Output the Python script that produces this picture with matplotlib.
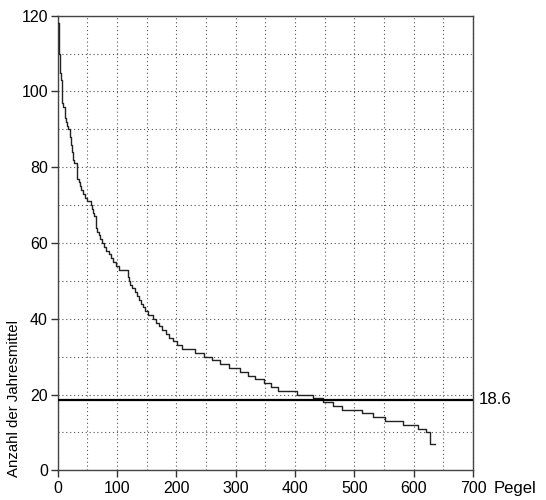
import matplotlib
matplotlib.use("Agg")
import matplotlib.pyplot as plt
from matplotlib.ticker import MultipleLocator

plt.rcParams['font.family'] = ['Liberation Sans', 'DejaVu Sans']

# rank at which each count level starts (steps-post), and the count level
ranks = [1, 2, 3, 4, 5, 7, 8, 9, 12, 14, 16, 17, 20, 22, 24, 26, 28, 32, 33, 36,
         38, 40, 43, 46, 49, 56, 58, 60, 62, 64, 65, 67, 69, 72, 75, 78, 82, 86, 90, 94,
         98, 104, 118, 120, 122, 125, 130, 134, 137, 140, 143, 147, 152, 161, 165, 170,
         176, 182, 188, 194, 201, 210, 232, 246, 260, 273, 289, 307, 320, 333, 348, 359,
         372, 404, 430, 448, 464, 479, 513, 532, 551, 582, 607, 621, 627, 636]
counts = [118, 115, 110, 105, 103, 100, 97, 96, 93, 92, 91, 90, 88, 86, 84, 82, 81, 79, 77, 76,
          75, 74, 73, 72, 71, 70, 69, 68, 67, 66, 64, 63, 62, 61, 60, 59, 58, 57, 56, 55,
          54, 53, 51, 50, 49, 48, 47, 46, 45, 44, 43, 42, 41, 40, 39, 38,
          37, 36, 35, 34, 33, 32, 31, 30, 29, 28, 27, 26, 25, 24, 23, 22,
          21, 20, 19, 18, 17, 16, 15, 14, 13, 12, 11, 10, 7, 7]
threshold = 18.6
xticks = [0, 100, 200, 300, 400, 500, 600, 700]
yticks = [0, 20, 40, 60, 80, 100, 120]

fig = plt.figure(figsize=(5.46, 5.0), dpi=100)
ax = fig.add_axes([0.1057, 0.0594, 0.7606, 0.9092])

ax.plot(ranks, counts, drawstyle='steps-post', color='#222222', lw=1.0, zorder=3)
ax.axhline(threshold, color='black', lw=1.6, zorder=4)

ax.set_xlim(0, 700)
ax.set_ylim(0, 120)
ax.set_xticks(xticks)
ax.set_yticks(yticks)
ax.xaxis.set_minor_locator(MultipleLocator(50))
ax.yaxis.set_minor_locator(MultipleLocator(10))
ax.tick_params(which='major', direction='out', length=5, width=1, labelsize=11.5,
               color='#333333')
ax.tick_params(axis='x', which='major', pad=3)
ax.tick_params(axis='y', which='major', pad=2)
ax.tick_params(which='minor', length=0)
ax.grid(which='both', color='#555555', linestyle=(0, (1, 2.5)), lw=0.8)
ax.set_axisbelow(True)
for s in ax.spines.values():
    s.set_color('#444444')
    s.set_linewidth(1.0)

ax.annotate(f'{threshold}', xy=(1, threshold), xycoords=('axes fraction', 'data'),
            xytext=(4, 0), textcoords='offset points', va='center', ha='left', fontsize=12.2)
ax.annotate('Pegel', xy=(1, 0), xycoords='axes fraction', xytext=(14.5, -8),
            textcoords='offset points', va='top', ha='left', fontsize=12)
fig.text(14 / 546, 1 - 477 / 500, 'Anzahl der Jahresmittel', rotation=90,
         ha='center', va='bottom', fontsize=10.8)

fig.savefig('out.png', dpi=100)
